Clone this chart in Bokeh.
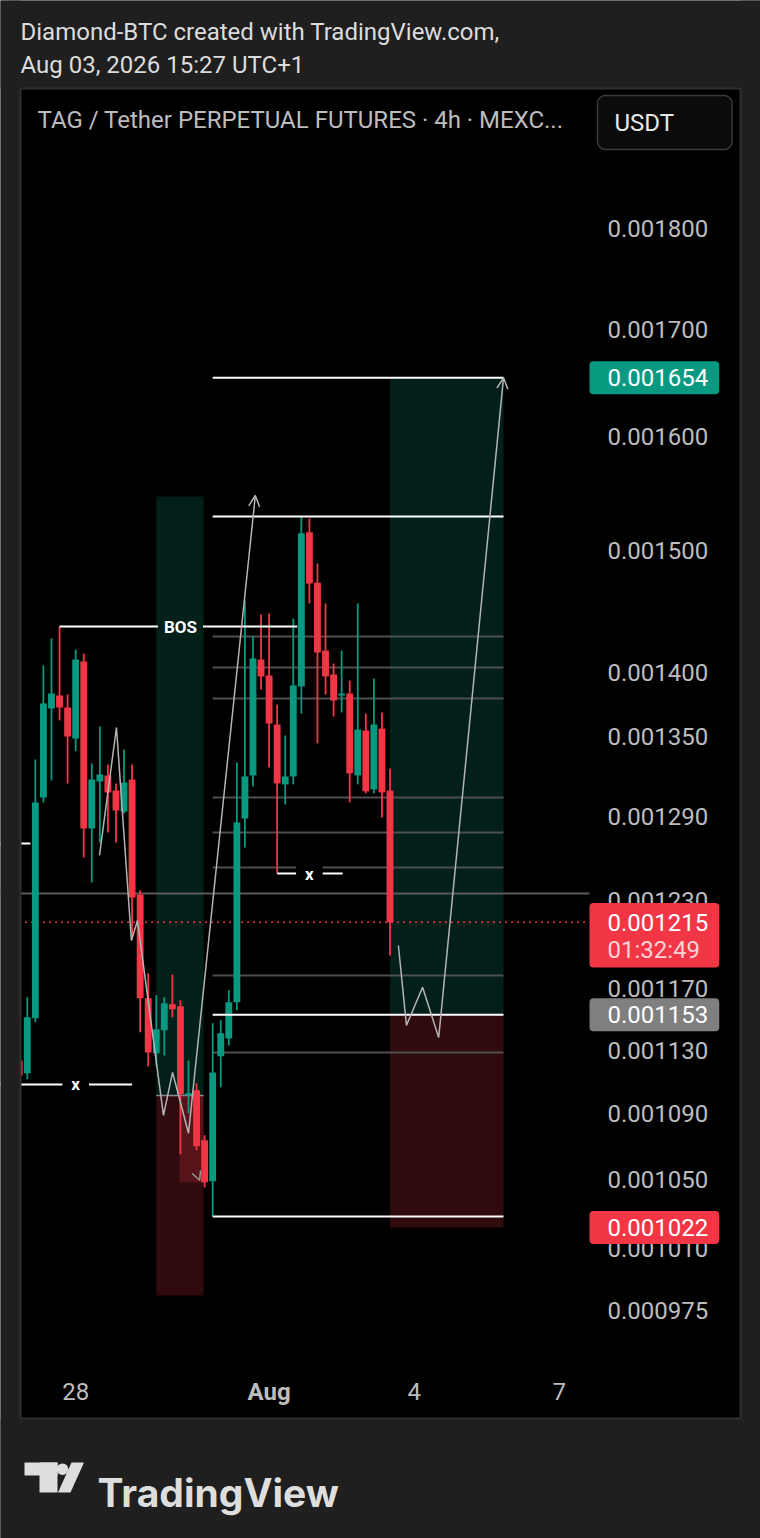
import pandas as pd
from bokeh.plotting import figure
from bokeh.models import Range1d, LogScale, ColumnDataSource, Arrow, OpenHead
from bokeh.core.properties import value
from bokeh.embed import file_html
from bokeh.resources import INLINE

# ---------------- data (4h candles, TAG/USDT perpetual, UTC+1) ----------------
first_bar = "2026-07-26 21:00"
opens = [0.0011235, 0.0011153, 0.0011506, 0.0013040, 0.0013714, 0.0013815, 0.0013722, 0.0013483,
         0.0014084, 0.0012813, 0.0013159, 0.0013204, 0.0013092, 0.0012937, 0.0013173, 0.0012343,
         0.0011637, 0.0011280, 0.0011428, 0.0011598, 0.0011585, 0.0011015, 0.0011046, 0.0010738,
         0.0010491, 0.0011261, 0.0011376, 0.0011611, 0.0012886, 0.0013204, 0.0014100, 0.0013973,
         0.0013590, 0.0013137, 0.0013196, 0.0013886, 0.0015154, 0.0014728, 0.0014172, 0.0013981,
         0.0013815, 0.0013831, 0.0013204, 0.0013544, 0.0013099, 0.0013559, 0.0013092]
highs = [0.0011267, 0.0011644, 0.0013324, 0.0014052, 0.0014269, 0.0014366, 0.0013823, 0.0014181,
         0.0014148, 0.0013293, 0.0013575, 0.0013286, 0.0013144, 0.0013400, 0.0013286, 0.0012371,
         0.0011803, 0.0011657, 0.0011644, 0.0011796, 0.0011624, 0.0011235, 0.0011090, 0.0010768,
         0.0011474, 0.0011493, 0.0011690, 0.0013301, 0.0014579, 0.0014285, 0.0014464, 0.0014472,
         0.0013745, 0.0013506, 0.0014431, 0.0015290, 0.0015272, 0.0014888, 0.0014555, 0.0014068,
         0.0014172, 0.0013933, 0.0014555, 0.0013675, 0.0013949, 0.0013683, 0.0013256]
lows = [0.0011109, 0.0011115, 0.0011480, 0.0013003, 0.0013166, 0.0013621, 0.0013144, 0.0013385,
        0.0012604, 0.0012427, 0.0012712, 0.0012784, 0.0012712, 0.0012922, 0.0012032, 0.0011415,
        0.0011197, 0.0011197, 0.0011267, 0.0011513, 0.0010653, 0.0010903, 0.0010677, 0.0010455,
        0.0010284, 0.0011065, 0.0011331, 0.0011559, 0.0012675, 0.0013122, 0.0013862, 0.0013263,
        0.0012490, 0.0012988, 0.0013137, 0.0013675, 0.0014555, 0.0013445, 0.0013823, 0.0013652,
        0.0013683, 0.0013003, 0.0013137, 0.0013070, 0.0013070, 0.0012893, 0.0011923]
closes = [0.0011139, 0.0011513, 0.0013003, 0.0013753, 0.0013831, 0.0013722, 0.0013499, 0.0014100,
          0.0012813, 0.0013173, 0.0013211, 0.0013077, 0.0012944, 0.0013151, 0.0012322, 0.0011637,
          0.0011286, 0.0011435, 0.0011604, 0.0011565, 0.0011021, 0.0011028, 0.0010701, 0.0010485,
          0.0011159, 0.0011409, 0.0011611, 0.0012857, 0.0013196, 0.0014108, 0.0013965, 0.0013598,
          0.0013144, 0.0013196, 0.0013894, 0.0015145, 0.0014720, 0.0014156, 0.0013965, 0.0013776,
          0.0013831, 0.0013219, 0.0013552, 0.0013085, 0.0013590, 0.0013077, 0.001215]

price_ticks = [0.0018, 0.0017, 0.0016, 0.0015, 0.0014, 0.00135, 0.00129, 0.00123,
               0.00117, 0.00113, 0.00109, 0.00105, 0.00101, 0.000975]
time_tick_dates = ["2026-07-28 01:00", "2026-08-01 01:00", "2026-08-04 01:00", "2026-08-07 01:00"]
time_tick_labels = ["28", "Aug", "4", "7"]

last_price = 0.001215
countdown = "01:32:49"
tag_prices = [0.001654, 0.001153, 0.001022]
tag_kinds = ["green", "grey", "red"]

# drawings
pos1_time = ["2026-07-29 17:00", "2026-07-30 16:30"]
pos1_prices = [0.0015464, 0.0011014, 0.00098338]       # target, entry, stop
pos1_hl_time = ["2026-07-30 04:30", "2026-07-30 16:30"]
pos1_hl_prices = [0.0011014, 0.0010484]
pos2_time = ["2026-08-03 13:00", "2026-08-05 21:20"]
pos2_prices = [0.001654, 0.001153, 0.001022]

level_time = ["2026-07-30 21:00", "2026-08-05 21:20"]
white_levels = [0.001654, 0.0015290, 0.001153, 0.0010284]
grey_levels = [0.0014285, 0.0014036, 0.0013792, 0.0013040, 0.0012784, 0.0012533, 0.0011789, 0.0011285]
full_line_time = ["2026-07-26 09:00", "2026-08-07 16:00"]
full_grey_level = 0.0012349

bos_time = ["2026-07-27 17:00", "2026-08-01 15:00", "2026-07-30 05:00"]
bos_price = 0.0014366
x1_time = ["2026-07-26 09:00", "2026-07-29 05:00", "2026-07-28 01:00"]
x1_price = 0.0011083
x2_time = ["2026-08-01 05:00", "2026-08-02 13:30", "2026-08-01 21:00"]
x2_price = 0.0012490
stub_time = ["2026-07-26 09:00", "2026-07-27 02:30"]
stub_price = 0.0012704

path1_time = ["2026-07-28 12:50", "2026-07-28 21:15", "2026-07-29 04:40", "2026-07-29 07:40",
              "2026-07-29 20:35", "2026-07-30 01:05", "2026-07-30 09:00", "2026-07-31 18:10"]
path1_price = [0.0012619, 0.0013567, 0.0012025, 0.0012162, 0.0010891, 0.0011159, 0.0010781, 0.0015473]
path2_time = ["2026-08-03 17:10", "2026-08-03 21:10", "2026-08-04 05:10", "2026-08-04 13:10", "2026-08-05 21:20"]
path2_price = [0.0011991, 0.0011460, 0.0011710, 0.0011382, 0.001654]
small_arrow_time = ["2026-07-30 10:00", "2026-07-30 14:30"]
small_arrow_price = [0.0010640, 0.0010497]

# ---------------- layout / style ----------------
W, H = 760, 1538
BG = "#1f1f1f"
GREEN = "#089981"
RED = "#f23645"
FONT = value("Roboto")
FS = "24px"
T0 = pd.Timestamp("2026-07-27 01:00")
PX_T0, PX_PER_H = 26.8, 2.015
P_TOP, P_BOTTOM = 0.00204822, 0.00085690


def hrs(s):
    return (pd.Timestamp(s) - T0) / pd.Timedelta(hours=1)


p = figure(width=W, height=H, x_range=Range1d(0, W), y_range=Range1d(H, 0),
           output_backend="svg", toolbar_location=None, min_border=0,
           x_axis_location=None, y_axis_location=None,
           background_fill_color=BG, border_fill_color=BG, outline_line_color=None)
p.styles = {"position": "absolute", "left": "0px", "top": "0px"}
p.grid.visible = False
p.extra_x_ranges = {"t": Range1d((0 - PX_T0) / PX_PER_H, (W - PX_T0) / PX_PER_H)}
p.extra_y_ranges = {"p": Range1d(P_BOTTOM, P_TOP)}
p.extra_y_scales = {"p": LogScale()}
TP = dict(x_range_name="t", y_range_name="p")

# chart panel
p.quad(left=[20], right=[740], top=[88], bottom=[1418], fill_color="#000000", line_color=None)

# long position boxes
p.quad(left=[hrs(pos1_time[0])], right=[hrs(pos1_time[1])], top=[pos1_prices[0]], bottom=[pos1_prices[1]],
       fill_color=GREEN, fill_alpha=0.2, line_color=None, **TP)
p.quad(left=[hrs(pos1_time[0])], right=[hrs(pos1_time[1])], top=[pos1_prices[1]], bottom=[pos1_prices[2]],
       fill_color=RED, fill_alpha=0.2, line_color=None, **TP)
p.quad(left=[hrs(pos1_hl_time[0])], right=[hrs(pos1_hl_time[1])], top=[pos1_hl_prices[0]], bottom=[pos1_hl_prices[1]],
       fill_color=RED, fill_alpha=0.2, line_color=None, **TP)
p.segment(x0=[hrs(pos1_time[0])], x1=[hrs(pos1_time[1])], y0=[pos1_prices[1]], y1=[pos1_prices[1]],
          line_color="#8a8a8a", line_width=1.5, **TP)
p.quad(left=[hrs(pos2_time[0])], right=[hrs(pos2_time[1])], top=[pos2_prices[0]], bottom=[pos2_prices[1]],
       fill_color=GREEN, fill_alpha=0.2, line_color=None, **TP)
p.quad(left=[hrs(pos2_time[0])], right=[hrs(pos2_time[1])], top=[pos2_prices[1]], bottom=[pos2_prices[2]],
       fill_color=RED, fill_alpha=0.2, line_color=None, **TP)

# horizontal levels
lx0, lx1 = hrs(level_time[0]), hrs(level_time[1])
p.segment(x0=[lx0] * len(grey_levels), x1=[lx1] * len(grey_levels), y0=grey_levels, y1=grey_levels,
          line_color="#4f4f4f", line_width=2, **TP)
fx0, fx1 = hrs(full_line_time[0]), hrs(full_line_time[1])
p.segment(x0=[fx0], x1=[fx1], y0=[full_grey_level], y1=[full_grey_level], line_color="#5a5a5a", line_width=2, **TP)
p.segment(x0=[fx0], x1=[fx1], y0=[last_price], y1=[last_price], line_color=RED, line_width=1.5,
          line_dash="2 4", **TP)

# candles
bar_times = pd.date_range(first_bar, periods=len(opens), freq="4h")
hx = [(t - T0) / pd.Timedelta(hours=1) for t in bar_times]
cols = [GREEN if c >= o else RED for o, c in zip(opens, closes)]
src = ColumnDataSource(dict(x=hx, o=opens, h=highs, l=lows, c=closes, col=cols,
                            top=[max(o, c) for o, c in zip(opens, closes)],
                            bot=[min(o, c) for o, c in zip(opens, closes)]))
p.segment(x0="x", x1="x", y0="l", y1="h", line_color="col", line_width=1.8, source=src, **TP)
p.vbar(x="x", width=3.4, top="top", bottom="bot", fill_color="col", line_color=None, source=src, **TP)

# white lines
p.segment(x0=[lx0] * len(white_levels), x1=[lx1] * len(white_levels), y0=white_levels, y1=white_levels,
          line_color="#ffffff", line_width=2, **TP)
p.segment(x0=[hrs(bos_time[0])], x1=[hrs(bos_time[1])], y0=[bos_price], y1=[bos_price],
          line_color="#ffffff", line_width=2, **TP)
p.segment(x0=[hrs(x1_time[0]), hrs(x2_time[0]), hrs(stub_time[0])],
          x1=[hrs(x1_time[1]), hrs(x2_time[1]), hrs(stub_time[1])],
          y0=[x1_price, x2_price, stub_price], y1=[x1_price, x2_price, stub_price],
          line_color="#ffffff", line_width=2, **TP)
p.text(x=[hrs(bos_time[2])], y=[bos_price], text=["BOS"], text_font=FONT, text_font_size="17px",
       text_font_style="bold", text_color="#ffffff", text_align="center", text_baseline="middle",
       background_fill_color="#03201b", padding=dict(left=6, right=6, top=2, bottom=2), **TP)
p.text(x=[hrs(x1_time[2]), hrs(x2_time[2])], y=[x1_price, x2_price], text=["x", "x"], text_font=FONT,
       text_font_size="17px", text_font_style="bold", text_color="#ffffff", text_align="center",
       text_baseline="middle", background_fill_color="#000000",
       padding=dict(left=9, right=9, top=2, bottom=2), **TP)

# projection paths
for times, prices in ((path1_time, path1_price), (path2_time, path2_price)):
    xs = [hrs(t) for t in times]
    p.line(x=xs, y=prices, line_color="#b4b4b4", line_width=1.5, **TP)
    p.add_layout(Arrow(x_start=xs[-2], y_start=prices[-2], x_end=xs[-1], y_end=prices[-1],
                       line_color=None, end=OpenHead(size=11, line_color="#b4b4b4", line_width=1.5), **TP))
p.add_layout(Arrow(x_start=hrs(small_arrow_time[0]), y_start=small_arrow_price[0],
                   x_end=hrs(small_arrow_time[1]), y_end=small_arrow_price[1],
                   line_color=None, end=OpenHead(size=9, line_color="#9a9a9a", line_width=1.5), **TP))

# masks outside the panel
p.quad(left=[0, 740, 0, 0], right=[20, W, W, W], top=[0, 0, 0, 1418], bottom=[H, H, 88, H],
       fill_color=BG, line_color=None)
p.quad(left=[20], right=[740], top=[88], bottom=[1418], fill_color=None, line_color="#2f2f2f", line_width=2)

# price scale labels
p.text(x=[607] * len(price_ticks), y=price_ticks, text=[f"{v:.6f}" for v in price_ticks],
       text_font=FONT, text_font_size=FS, text_color="#bdbdbd", text_baseline="middle",
       y_range_name="p")

# price tags
tag_colors = {"green": GREEN, "grey": "#7f7f7f", "red": RED}
for v, k in zip(tag_prices, tag_kinds):
    p.text(x=[589], y=[v], text=[f"{v:.6f}"], text_font=FONT, text_font_size=FS,
           text_color="#ffffff", text_baseline="middle", background_fill_color=tag_colors[k],
           border_radius=4, padding=dict(left=18, right=11, top=8, bottom=8), y_range_name="p")
p.text(x=[589], y=[last_price], text=[f"{last_price:.6f}\n{countdown}"], y_offset=13,
       text_font=FONT, text_font_size=FS, text_color=RED, text_baseline="middle",
       background_fill_color=RED, border_radius=4, padding=dict(left=18, right=11, top=2, bottom=1),
       y_range_name="p")
p.text(x=[589], y=[last_price], text=[f"{last_price:.6f}"], x_offset=18, text_font=FONT,
       text_font_size=FS, text_color="#ffffff", text_baseline="middle", y_range_name="p")
p.text(x=[589], y=[last_price], text=[countdown], x_offset=18, y_offset=28, text_font=FONT,
       text_font_size=FS, text_color="#fbd3d7", text_baseline="middle", y_range_name="p")

# time axis labels
for d, lab in zip(time_tick_dates, time_tick_labels):
    p.text(x=[hrs(d)], y=[1391], text=[lab], text_font=FONT, text_font_size=FS,
           text_font_style="bold" if lab == "Aug" else "normal", text_color="#bdbdbd",
           text_align="center", text_baseline="middle", x_range_name="t")

# header
p.text(x=[20, 20], y=[31, 64], text=["Diamond-BTC created with TradingView.com,", "Aug 03, 2026 15:27 UTC+1"],
       text_font=FONT, text_font_size=FS, text_color="#dcdcdc", text_baseline="middle")
p.text(x=[37], y=[119], text=["TAG / Tether PERPETUAL FUTURES · 4h · MEXC..."], text_font=FONT,
       text_font_size=FS, text_color="#bdbdbd", text_baseline="middle")
p.text(x=[597], y=[122], text=["USDT"], text_font=FONT, text_font_size=FS, text_color="#e8e8e8",
       text_baseline="middle", background_fill_color="#0b0b0b", border_line_color="#3a3a3a",
       border_line_width=1.5, border_radius=8, padding=dict(left=17, right=58, top=13, bottom=13))

# TradingView logo
p.quad(left=[24, 39], right=[57, 57], top=[1462, 1462], bottom=[1475, 1492], fill_color="#dedede", line_color=None)
p.circle(x=[62], y=[1468.7], radius=5.8, fill_color="#dedede", line_color=None)
p.patch(x=[71, 83.5, 70, 57.5], y=[1462, 1462, 1492, 1492], fill_color="#dedede", line_color=None)
p.text(x=[97], y=[1492], text=["TradingView"], text_font=value("Inter"), text_font_size="39px",
       text_font_style="bold", text_color="#dedede", text_baseline="alphabetic")

open("out.html", "w").write(file_html(p, INLINE))
